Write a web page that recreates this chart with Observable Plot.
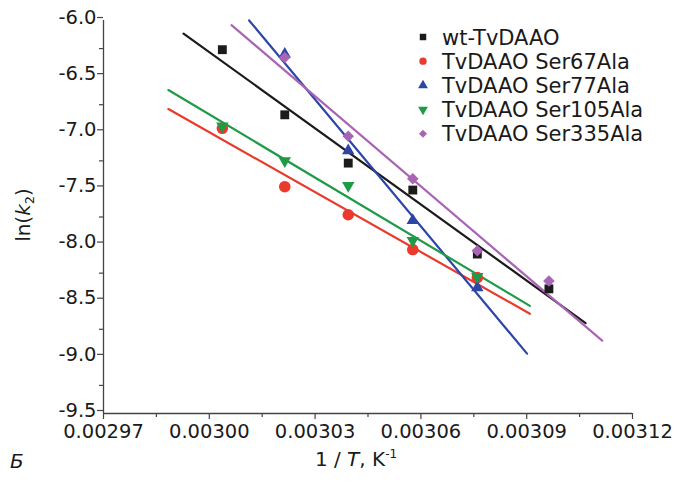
<!DOCTYPE html>
<html><head><meta charset="utf-8">
<script src="https://cdn.jsdelivr.net/npm/d3@7"></script>
<script src="https://cdn.jsdelivr.net/npm/@observablehq/plot@0.6"></script>
<style>
body{margin:0;background:#fff;}
#wrap{position:relative;width:688px;height:485px;}
</style></head><body><div id="wrap"></div>
<script>
// 1/T values (K^-1)
const invT = [0.0030037, 0.0030214, 0.0030394, 0.0030577, 0.0030760, 0.0030963];
const seriesNames = ["wt-TvDAAO", "TvDAAO Ser67Ala", "TvDAAO Ser77Ala", "TvDAAO Ser105Ala", "TvDAAO Ser335Ala"];
const wt     = [-6.26, -6.84, -7.27, -7.51, -8.08, -8.39];
const ser67  = [-6.96, -7.48, -7.73, -8.04, -8.29, null];
const ser77  = [null, -6.30, -7.16, -7.78, -8.38, null];
const ser105 = [-6.94, -7.25, -7.47, -7.96, -8.28, null];
const ser335 = [null, -6.33, -7.03, -7.41, -8.05, -8.32];
// extent of each fitted line along 1/T
const fitFrom = [0.0029927, 0.0029884, 0.0030113, 0.0029884, 0.0030063];
const fitTo   = [0.0031067, 0.0030909, 0.0030901, 0.0030909, 0.0031114];
const colors  = ["#1b1b1b", "#ea3a2b", "#2c45a6", "#1f9a46", "#a965b5"];
const symbols = ["square", "circle", "triangle", "triangle", "diamond2"];
const rotations = [0, 0, 0, 180, 0];
const radii = [5, 5.8, 4.6, 4.6, 5.2];
const xTicks = [0.00297, 0.00300, 0.00303, 0.00306, 0.00309, 0.00312];
const xMinor = [0.002985, 0.003015, 0.003045, 0.003075, 0.003105];
const yTicks = [-6.0, -6.5, -7.0, -7.5, -8.0, -8.5, -9.0, -9.5];
const yMinor = [-6.25, -6.75, -7.25, -7.75, -8.25, -8.75, -9.25];

const allSeries = [wt, ser67, ser77, ser105, ser335];
const points = allSeries.map((vals, i) =>
  vals.map((v, j) => ({x: invT[j], y: v, s: i})).filter(d => d.y != null));

function fit(pts, i) {
  const mx = d3.mean(pts, d => d.x), my = d3.mean(pts, d => d.y);
  const sxy = d3.sum(pts, d => (d.x - mx) * (d.y - my));
  const sxx = d3.sum(pts, d => (d.x - mx) ** 2);
  const b = sxy / sxx;
  const f = x => my + b * (x - mx);
  return [{x: fitFrom[i], y: f(fitFrom[i])}, {x: fitTo[i], y: f(fitTo[i])}];
}

const marks = [
  Plot.axisX({ticks: xMinor, tickSize: 4, tickFormat: () => "", label: null, stroke: "#444", strokeWidth: 1.2}),
  Plot.axisX({ticks: xTicks, tickSize: 6, tickPadding: 5, tickFormat: d => d.toFixed(5), label: null, stroke: "#444", strokeWidth: 1.2, fill: "#1a1a1a", fontSize: 19.5}),
  Plot.axisY({ticks: yMinor, tickSize: 4, tickFormat: () => "", label: null, stroke: "#444", strokeWidth: 1.2}),
  Plot.axisY({ticks: yTicks, tickSize: 6, tickPadding: 1, tickFormat: d => d.toFixed(1), label: null, stroke: "#444", strokeWidth: 1.2, fill: "#1a1a1a", dy: -3, fontSize: 19.5}),
  Plot.ruleX([0.00297], {stroke: "#444", strokeWidth: 1.3}),
  Plot.ruleY([-9.5], {stroke: "#444", strokeWidth: 1.3})
];
allSeries.forEach((_, i) => {
  marks.push(Plot.line(fit(points[i], i), {x: "x", y: "y", stroke: colors[i], strokeWidth: 2.2}));
});
allSeries.forEach((_, i) => {
  marks.push(Plot.dot(points[i], {x: "x", y: "y", symbol: () => symbols[i], fill: colors[i], r: radii[i], rotate: rotations[i], stroke: "none"}));
});

const chart = Plot.plot({
  width: 688, height: 485,
  marginTop: 20, marginLeft: 103, marginRight: 56, marginBottom: 72,
  x: {domain: [0.00297, 0.00312]},
  y: {domain: [-9.5, -6.0]},
  symbol: {type: "identity"},
  style: {fontFamily: "'DejaVu Sans', sans-serif", fontSize: "19.5px", background: "white", color: "#1a1a1a"},
  marks
});
document.getElementById("wrap").appendChild(chart);

// titles and legend
const svg = d3.select(chart);
const g = svg.append("g").attr("font-family", "'DejaVu Sans', sans-serif").attr("fill", "#1a1a1a");
const yl = g.append("text").attr("transform", "translate(30,215) rotate(-90)")
  .attr("text-anchor", "middle").attr("font-size", 20);
yl.append("tspan").text("ln(");
yl.append("tspan").attr("font-style", "italic").text("k");
yl.append("tspan").attr("font-size", 13).attr("dy", 4).text("2");
yl.append("tspan").attr("dy", -4).text(")");
const xl = g.append("text").attr("x", 356).attr("y", 466).attr("text-anchor", "middle").attr("font-size", 20);
xl.append("tspan").text("1 / ");
xl.append("tspan").attr("font-style", "italic").text("T");
xl.append("tspan").text(", K");
xl.append("tspan").attr("font-size", 12).attr("dy", -8).text("-1");
g.append("text").attr("x", 10).attr("y", 468).attr("text-anchor", "start").attr("font-size", 20).attr("font-style", "italic").text("Б");

const symMap = {square: d3.symbolSquare, circle: d3.symbolCircle, triangle: d3.symbolTriangle, diamond2: d3.symbolDiamond2};
const leg = g.append("g");
seriesNames.forEach((name, i) => {
  const y = 37 + i * 24.2;
  leg.append("path").attr("d", d3.symbol(symMap[symbols[i]], 42)())
    .attr("transform", `translate(423,${y}) rotate(${rotations[i]})`).attr("fill", colors[i]);
  leg.append("text").attr("x", 442).attr("y", y).attr("dy", "0.36em").attr("text-anchor", "start").attr("font-size", 21).text(name);
});
</script></body></html>
